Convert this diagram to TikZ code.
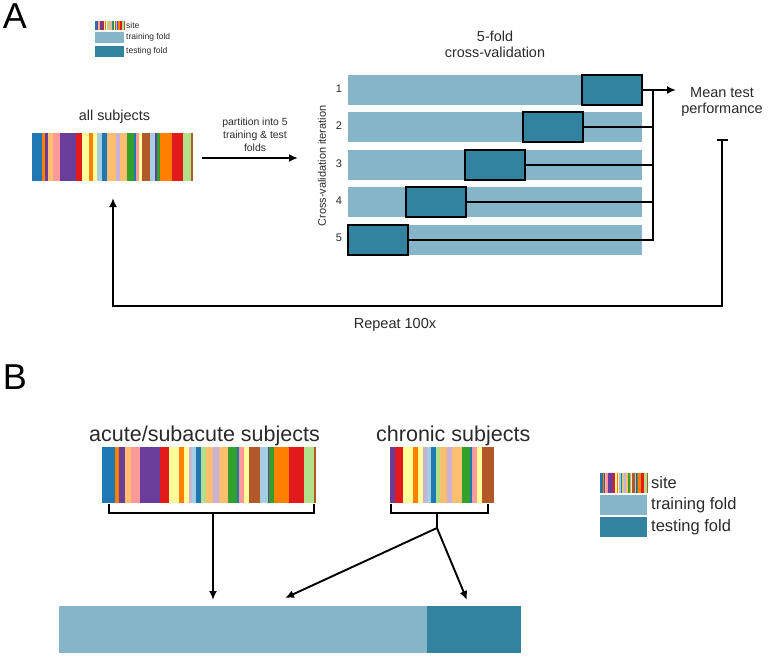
\documentclass[tikz,border=0pt]{standalone}
\usepackage{fontspec}
\setmainfont{Liberation Sans}
\usetikzlibrary{arrows.meta}
\definecolor{trainc}{HTML}{86B4C8}
\definecolor{testc}{HTML}{3282A0}
\definecolor{Pblue}{HTML}{1F78B4}
\definecolor{Plblue}{HTML}{A6CEE3}
\definecolor{Pgreen}{HTML}{33A02C}
\definecolor{Plgreen}{HTML}{B2DF8A}
\definecolor{Pred}{HTML}{E31A1C}
\definecolor{Ppink}{HTML}{FB9A99}
\definecolor{Porange}{HTML}{FF7F00}
\definecolor{Plorange}{HTML}{FDBF6F}
\definecolor{Ppurple}{HTML}{6A3D9A}
\definecolor{Plav}{HTML}{CAB2D6}
\definecolor{Pyellow}{HTML}{FFFF99}
\definecolor{Pbrown}{HTML}{B15928}
\definecolor{txt}{HTML}{2A2A2A}
\newcommand\alllist{65/95/Pblue,95/103/Porange,103/113/Ppurple,113/128/Plorange,128/150/Ppink,150/197/Ppurple,197/217/Pred,217/237/Pyellow,237/248/Porange,248/260/Pyellow,260/277/Plblue,277/290/Pblue,290/317/Plorange,317/330/Plav,330/350/Plorange,350/372/Pgreen,372/377/Pblue,377/387/Ppink,387/397/Pyellow,397/420/Pbrown,420/437/Plblue,437/442/Ppurple,442/450/Pgreen,450/488/Porange,488/520/Pred,520/545/Plgreen,545/550/Pbrown}
\newcommand\acutelist{22/62/Pblue,62/73/Porange,73/90/Ppurple,90/108/Plorange,108/135/Ppink,135/197/Ppurple,197/222/Pred,222/252/Pyellow,252/267/Porange,267/282/Pyellow,282/293/Plav,293/305/Plblue,305/318/Pblue,318/333/Plgreen,333/355/Plorange,355/372/Plav,372/400/Plorange,400/425/Pgreen,425/432/Pblue,432/447/Ppink,447/462/Pyellow,462/495/Pbrown,495/518/Plblue,518/523/Ppurple,523/538/Pgreen,538/583/Porange,583/627/Pred,627/657/Plgreen,657/663/Pbrown}
\newcommand\chroniclist{90/105/Ppurple,105/130/Pred,130/158/Pyellow,158/173/Porange,173/188/Pyellow,188/200/Plav,200/212/Plblue,212/227/Pblue,227/240/Plgreen,240/262/Plorange,262/278/Plav,278/307/Plorange,307/330/Pgreen,330/338/Pblue,338/352/Ppink,352/368/Pyellow,368/403/Pbrown}
% #1 list, #2 z0, #3 z1, #4 x0, #5 x1, #6 y0, #7 y1
\newcommand\stripebar[7]{%
  \pgfmathsetmacro\sx{(#5-#4)/(#3-#2)}%
  \pgfmathsetmacro\shx{#4-#2*\sx}%
  \begin{scope}[shift={(\shx,#6)},xscale=\sx]
    \foreach \a/\b/\c in #1 {\fill[\c] (\a,0) rectangle (\b,{#7-#6});}
  \end{scope}}
\begin{document}
\begin{tikzpicture}[x=1pt,y=-1pt,
  lbl/.style={text=txt,inner sep=0pt,font=\fontsize{#1}{#1}\selectfont},
  lbl/.default=14,
  trainbar/.style={fill=trainc,draw=none,minimum width=294pt,minimum height=30pt,inner sep=0pt},
  testbox/.style={fill=testc,draw=black,line width=2pt,minimum width=60pt,minimum height=30pt,inner sep=0pt},
  conn/.style={line width=1.9pt,black},
  arr/.style={conn,-{Latex[length=9pt,width=8pt]}},
  holder/.style={draw=none,inner sep=0pt,minimum width=#1}]
\useasboundingbox (0,0) rectangle (768,656);
\fill[white] (0,0) rectangle (768,656);
% ---------------- Panel A ----------------
\node[text=black,inner sep=0pt,font=\fontsize{36}{36}\selectfont] (A) at (15,16) {A};
% top legend
\stripebar{\acutelist}{22}{663}{95}{124}{21}{30}
\fill[trainc] (95,32) rectangle (124,43);
\fill[testc] (95,46) rectangle (124,57);
\node[lbl=8.5,anchor=west] (lg1) at (126,25.5) {site};
\node[lbl=8.5,anchor=west] (lg2) at (126,37.5) {training fold};
\node[lbl=8.5,anchor=west] (lg3) at (126,51.5) {testing fold};
% all subjects
\node[lbl=14.4] (allt) at (114.5,117) {all subjects};
\stripebar{\alllist}{65}{550}{32}{193}{133}{181}
\node[holder=161pt,minimum height=48pt] (allbar) at (112.5,157) {};
% partition arrow
\node[lbl=10.4,align=center] (part) at (255,135) {partition into 5\\[2.6pt]training \& test\\[2.6pt]folds};
\coordinate (p1) at (202,158);
\coordinate (p2) at (298,158);
\draw[arr] (p1) -- (p2);
% CV title
\node[lbl=14.4,align=center] (cvt) at (495,44) {5-fold\\[1.6pt]cross-validation};
\node[lbl=11,rotate=90] (cvi) at (322,166) {Cross-validation iteration};
% rows
\foreach \k/\yy in {1/90,2/127.4,3/164.8,4/202.2,5/239.6}{
  \node[trainbar] (b\k) at (495,\yy) {};
  \node[lbl=11] (n\k) at (339,\yy-1.5) {\k};
}
\node[testbox] (t1) at (612,90) {};
\node[testbox] (t2) at (553,127.4) {};
\node[testbox] (t3) at (494.5,164.8) {};
\node[testbox] (t4) at (436,202.2) {};
\node[testbox] (t5) at (377.5,239.6) {};
\coordinate (j1) at (653,90);
\coordinate (mt1) at (676,90);
\draw[arr] (t1.east) -- (mt1);
\draw[conn] (t5.east) -| (j1);
\draw[conn] (t2.east) -- (t2.east -| j1);
\draw[conn] (t3.east) -- (t3.east -| j1);
\draw[conn] (t4.east) -- (t4.east -| j1);
\node[lbl=14.5,align=center] (perf) at (722,102) {Mean test\\[1.5pt]performance};
% repeat loop
\coordinate (tbar) at (722,140);
\coordinate (corner) at (722,306);
\coordinate (back) at (113,198);
\draw[conn] ([xshift=-5.5pt]tbar) -- ([xshift=5.5pt]tbar);
\draw[arr] (tbar) -- (corner) -| (back);
\node[lbl=14.5] (rep) at (395,325) {Repeat 100x};
% ---------------- Panel B ----------------
\node[text=black,inner sep=0pt,font=\fontsize{36}{36}\selectfont] (B) at (15,377) {B};
\node[lbl=21.5,anchor=base west] (act) at (89,441) {acute/subacute subjects};
\node[lbl=21.5,anchor=base west] (chr) at (376,441) {chronic subjects};
\stripebar{\acutelist}{22}{663}{102}{316}{447}{503}
\stripebar{\chroniclist}{90}{403}{390}{494}{447}{503}
\node[holder=214pt,minimum height=56pt] (acbar) at (209,475) {};
\node[holder=104pt,minimum height=56pt] (chbar) at (442,475) {};
% brackets
\coordinate (ab) at (213,513);
\coordinate (cb) at (437,513);
\draw[conn] (109,504) -- (109,513) -- (314,513) -- (314,504);
\draw[conn] (391,504) -- (391,513) -- (488,513) -- (488,504);
\coordinate (cs) at (437,528);
\draw[conn] (cb) -- (cs);
% bottom bar
\fill[trainc] (59,606) rectangle (427,653);
\fill[testc] (427,606) rectangle (521,653);
\node[holder=462pt,minimum height=47pt] (botbar) at (290,629.5) {};
\coordinate (e1) at (213,600);
\coordinate (e2) at (285,598);
\coordinate (e3) at (467,600);
\draw[arr] (ab) -- (e1);
\draw[arr] (cs) -- (e2);
\draw[arr] (cs) -- (e3);
% right legend
\stripebar{\acutelist}{22}{663}{600}{647}{473}{493}
\fill[trainc] (600,495) rectangle (647,515);
\fill[testc] (600,517) rectangle (647,537);
\node[lbl=16.5,anchor=west] (rl1) at (651,483) {site};
\node[lbl=16.5,anchor=west] (rl2) at (651,505) {training fold};
\node[lbl=16.5,anchor=west] (rl3) at (651,527) {testing fold};
\end{tikzpicture}
\end{document}
